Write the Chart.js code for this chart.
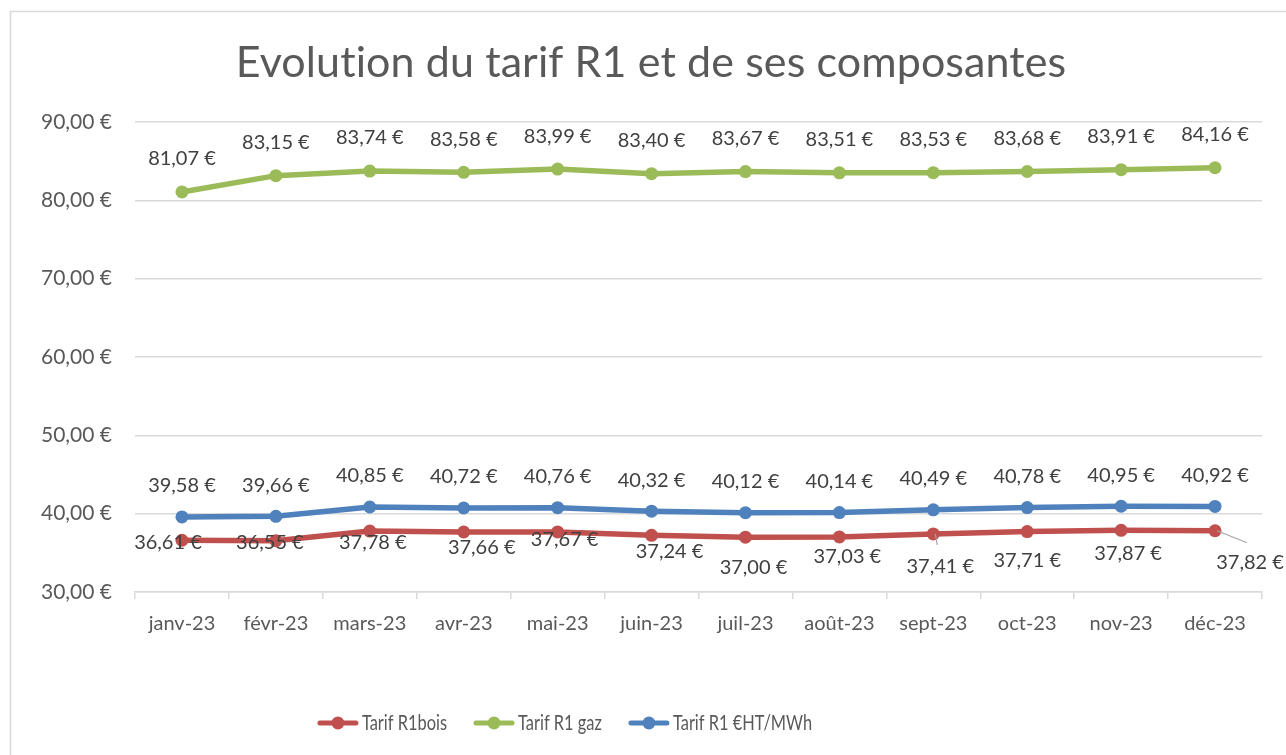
<!DOCTYPE html>
<html>
<head>
<meta charset="utf-8">
<script src="https://cdn.jsdelivr.net/npm/chart.js@4"></script>
<style>
  html, body { margin: 0; padding: 0; background: #fff; }
  #wrap { position: relative; width: 1286px; height: 755px; }
</style>
</head>
<body>
<div id="wrap"><canvas id="tarifChart" width="1286" height="755"></canvas></div>
<script>
// data
const months = ['janv-23', 'févr-23', 'mars-23', 'avr-23', 'mai-23', 'juin-23',
                'juil-23', 'août-23', 'sept-23', 'oct-23', 'nov-23', 'déc-23'];
const tarifBois = [36.61, 36.55, 37.78, 37.66, 37.67, 37.24, 37.00, 37.03, 37.41, 37.71, 37.87, 37.82];
const tarifGaz = [81.07, 83.15, 83.74, 83.58, 83.99, 83.40, 83.67, 83.51, 83.53, 83.68, 83.91, 84.16];
const tarifMwh = [39.58, 39.66, 40.85, 40.72, 40.76, 40.32, 40.12, 40.14, 40.49, 40.78, 40.95, 40.92];
const yTicks = [30, 40, 50, 60, 70, 80, 90];

const FONT = 'Lato, "Open Sans", sans-serif';
const GREY_TEXT = '#595959';
const LABEL_TEXT = '#404040';

// label placement per series (pixel offsets from the point, like dragged Excel labels)
const boisLabelOffsets = [[-14, 2], [-6, 2], [3, 11], [18, 16], [7, 8], [18, 16],
                          [8, 30], [8, 20], [7, 33], [0, 29], [7, 23], [35, 32]];
const boisLeaders = { 8: true, 11: true };

function euro(v) {
    return v.toFixed(2).replace('.', ',') + ' €';
}

const frame = {
    id: 'frame',
    beforeDraw(chart) {
        const ctx = chart.ctx;
        ctx.save();
        ctx.fillStyle = '#fff';
        ctx.fillRect(0, 0, chart.width, chart.height);
        ctx.strokeStyle = '#d9d9d9';
        ctx.lineWidth = 1.5;
        ctx.strokeRect(10.5, 11.5, 1290, 780);
        ctx.fillStyle = GREY_TEXT;
        ctx.font = '43px ' + FONT;
        ctx.letterSpacing = '0.1px'; // avoids the "ti" ligature of Lato
        ctx.textAlign = 'center';
        ctx.textBaseline = 'middle';
        ctx.fillText('Evolution du tarif R1 et de ses composantes', 651, 63);
        ctx.restore();
    }
};

const valueLabels = {
    id: 'valueLabels',
    afterDatasetsDraw(chart) {
        const ctx = chart.ctx;
        ctx.save();
        ctx.font = '20px ' + FONT;
        ctx.fillStyle = LABEL_TEXT;
        ctx.textAlign = 'center';
        ctx.textBaseline = 'middle';
        chart.data.datasets.forEach((ds, di) => {
            const meta = chart.getDatasetMeta(di);
            meta.data.forEach((pt, i) => {
                let dx = 0, dy = -31;
                if (ds.labelMode === 'bois') {
                    dx = boisLabelOffsets[i][0];
                    dy = boisLabelOffsets[i][1];
                    if (boisLeaders[i]) {
                        ctx.save();
                        ctx.strokeStyle = '#a6a6a6';
                        ctx.lineWidth = 1.2;
                        ctx.beginPath();
                        ctx.moveTo(pt.x + 2, pt.y);
                        if (i === 11) ctx.lineTo(pt.x + 32, pt.y + 12);
                        else ctx.lineTo(pt.x + 4, pt.y + 11);
                        ctx.stroke();
                        ctx.restore();
                    }
                } else if (ds.labelMode === 'gaz') {
                    dy = -33;
                }
                ctx.fillText(euro(ds.data[i]), pt.x + dx, pt.y + dy);
            });
        });
        ctx.restore();
    }
};

const bottomLegend = {
    id: 'bottomLegend',
    afterDraw(chart) {
        const ctx = chart.ctx;
        ctx.save();
        ctx.font = '20px ' + FONT;
        ctx.textBaseline = 'middle';
        const y = 723;
        const squeeze = 0.82; // legend text is narrow in the reference
        const lineLen = 40, gapText = 4, gapItem = 27;
        const items = chart.data.datasets.map(ds => ({ text: ds.label, color: ds.borderColor }));
        let total = 0;
        items.forEach((it, k) => {
            it.w = ctx.measureText(it.text).width * squeeze;
            total += lineLen + gapText + it.w + (k < items.length - 1 ? gapItem : 0);
        });
        let x = 565 - total / 2;
        items.forEach(it => {
            ctx.strokeStyle = it.color;
            ctx.lineWidth = 5;
            ctx.lineCap = 'round';
            ctx.beginPath();
            ctx.moveTo(x + 2, y);
            ctx.lineTo(x + lineLen - 2, y);
            ctx.stroke();
            ctx.fillStyle = it.color;
            ctx.beginPath();
            ctx.arc(x + lineLen / 2, y, 6.5, 0, Math.PI * 2);
            ctx.fill();
            ctx.fillStyle = GREY_TEXT;
            ctx.textAlign = 'left';
            ctx.save();
            ctx.translate(x + lineLen + gapText, y);
            ctx.scale(squeeze, 1.05);
            ctx.fillText(it.text, 0, 0);
            ctx.restore();
            x += lineLen + gapText + it.w + gapItem;
        });
        ctx.restore();
    }
};

function lineSet(label, data, color, mode) {
    return {
        label: label,
        data: data,
        borderColor: color,
        backgroundColor: color,
        borderWidth: 5.5,
        pointRadius: 6.5,
        pointHoverRadius: 6.5,
        pointBorderWidth: 0,
        tension: 0,
        labelMode: mode
    };
}

new Chart(document.getElementById('tarifChart'), {
    type: 'line',
    data: {
        labels: months,
        datasets: [
            lineSet('Tarif R1bois', tarifBois, '#c0504d', 'bois'),
            lineSet('Tarif R1 gaz', tarifGaz, '#9bbb59', 'gaz'),
            lineSet('Tarif R1 €HT/MWh', tarifMwh, '#4f81bd', 'mwh')
        ]
    },
    options: {
        responsive: false,
        animation: false,
        events: [],
        layout: { padding: { left: 0, right: 24, top: 122, bottom: 113 } },
        plugins: {
            legend: { display: false },
            title: { display: false },
            tooltip: { enabled: false }
        },
        scales: {
            x: {
                offset: true,
                grid: {
                    offset: true,
                    drawOnChartArea: false,
                    drawTicks: true,
                    tickLength: 7,
                    color: '#d9d9d9',
                    lineWidth: 1.5
                },
                border: { color: '#d9d9d9', width: 1.5 },
                ticks: {
                    color: GREY_TEXT,
                    font: { family: FONT, size: 20 },
                    padding: 13,
                    maxRotation: 0,
                    autoSkip: false
                },
                afterFit(scale) { scale.height = 50; }
            },
            y: {
                min: 30,
                max: 90,
                afterBuildTicks(scale) {
                    scale.ticks = yTicks.map(v => ({ value: v }));
                },
                grid: { color: '#d9d9d9', lineWidth: 1.5, drawTicks: false },
                border: { display: false },
                ticks: {
                    color: GREY_TEXT,
                    font: { family: FONT, size: 21 },
                    padding: 23,
                    callback: v => euro(v)
                },
                afterFit(scale) { scale.width = 135; }
            }
        }
    },
    plugins: [frame, valueLabels, bottomLegend]
});
</script>
</body>
</html>
